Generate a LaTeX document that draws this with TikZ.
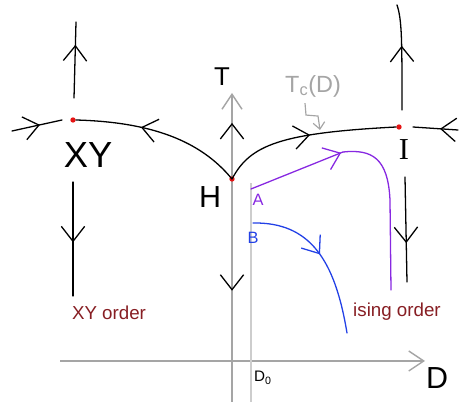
\documentclass[tikz,border=0pt]{standalone}
\usepackage{fontspec}
\setmainfont{Liberation Sans}
\newfontfamily\serifhand{Liberation Serif}
\usetikzlibrary{arrows.meta,decorations.markings}

\definecolor{axisgray}{RGB}{165,165,165}
\definecolor{paleaxis}{RGB}{205,205,205}
\definecolor{ordred}{RGB}{135,30,35}
\definecolor{flowpurple}{RGB}{135,40,225}
\definecolor{flowblue}{RGB}{35,65,230}
\definecolor{fixred}{RGB}{230,20,20}

\begin{document}
\begin{tikzpicture}[
x=0.03cm, y=-0.03cm,
chev/.tip={Straight Barb[length=4.5mm,width=7mm]},
flow/.style={line width=1.1pt, line cap=round},
flowat/.style={postaction={decorate}, decoration={markings, mark=at position #1 with {\arrow{chev}}}},
axis/.style={axisgray, line width=1.2pt, -{Straight Barb[length=4.5mm,width=6mm]}},
fixpt/.style={circle, fill=fixred, inner sep=0pt, minimum size=1.6mm},
hand/.style={font=\fontsize{26}{28}\selectfont},
order/.style={ordred, font=\fontsize{16}{18}\selectfont}
]
\useasboundingbox (0,0) rectangle (468,402);

% ---------- AXES ----------
\coordinate (tbottom) at (232,402);
\coordinate (ttip) at (232,93);
\coordinate (dstart) at (60,361);
\coordinate (dtip) at (425,361);
\draw[axis] (tbottom) -- (ttip);
\draw[axis] (dstart) -- (dtip);

% D_0 line
\coordinate (dzbottom) at (251,402);
\coordinate (dztop) at (251,183);
\draw[paleaxis, line width=1pt] (dzbottom) -- (dztop);

\node[hand, font=\fontsize{22}{24}\selectfont] (tlab) at (222,77) {T};
\node[hand] (dlab) at (437,378) {D};
\node[font=\fontsize{13}{15}\selectfont] (dzero) at (263,378) {D\textsubscript{0}};

% ---------- FIXED POINTS ----------
\node[fixpt] (xy) at (73,120) {};
\node[fixpt] (h) at (232,179) {};
\node[fixpt] (ising) at (399,127) {};

\node[hand, font=\fontsize{31}{33}\selectfont] (xylab) at (88,155) {XY};
\node[hand] (hlab) at (210,197) {H};
\node[hand, font=\fontsize{26}{28}\serifhand] (ilab) at (404,150) {I};

% ---------- FLOWS ----------
% along the XY line
\coordinate (xyleft) at (12,131);
\coordinate (xyin) at (62,120);
\draw[flow, flowat=0.56] (xyleft) -- (xyin);
\draw[flow, flowat=0.62] (h.center) .. controls (200,140) and (150,122) .. (xy.east);

% along the Ising line
\coordinate (iright) at (458,130);
\coordinate (iin) at (413,127);
\draw[flow, flowat=0.4] (iright) -- (iin);
\draw[flow, flowat=0.52] (h.center) .. controls (250,145) and (280,133) .. (ising.west);

% vertical flows
\coordinate (xyupfrom) at (74,98);
\coordinate (xytop) at (76,22);
\coordinate (xydownfrom) at (73,182);
\coordinate (xybottom) at (73,296);
\draw[flow, flowat=0.7] (xyupfrom) -- (xytop);
\draw[flow, flowat=0.53] (xydownfrom) -- (xybottom);

\coordinate (iupfrom) at (402,110);
\coordinate (itop) at (397,5);
\coordinate (idownfrom) at (405,177);
\coordinate (ibottom) at (407,282);
\draw[flow, flowat=0.61] (iupfrom) .. controls (402,40) and (402,20) .. (itop);
\draw[flow, flowat=0.63] (idownfrom) -- (ibottom);

% along the T axis
\coordinate (hup) at (232,100);
\coordinate (hdown) at (232,330);
\path[flow, flowat=0.71] (h.center) -- (hup);
\path[flow, flowat=0.74] (h.center) -- (hdown);

% ---------- TRAJECTORIES A, B ----------
\coordinate (astart) at (251,189);
\coordinate (aknee) at (343,152);
\coordinate (aend) at (391,290);
\draw[flow, flowpurple, flowat=0.98] (astart) -- (aknee);
\draw[flow, flowpurple] (aknee) .. controls (372,149) and (388,158) .. (390,200) -- (aend);
\node[flowpurple, font=\fontsize{14}{16}\selectfont] (alab) at (258,200) {A};

\coordinate (bstart) at (253,223);
\coordinate (bend) at (347,333);
\draw[flow, flowblue, flowat=0.48] (bstart) .. controls (310,222) and (335,260) .. (bend);
\node[flowblue, font=\fontsize{14}{16}\selectfont] (blab) at (253,238) {B};

% ---------- LABELS ----------
\node[axisgray, font=\fontsize{20}{22}\selectfont] (tc) at (313,86) {T\textsubscript{c}(D)};
\coordinate (tcpt) at (320,130);
\draw[axisgray, line width=1pt, -{Straight Barb[length=2mm,width=3.5mm]}] (tc.south) ++(-8,2) -- ++(1,12) -- ++(12,1) -- (tcpt);

\node[order] (xyord) at (109,313) {XY order};
\node[order] (isord) at (397,312) {ising order};

\end{tikzpicture}
\end{document}
